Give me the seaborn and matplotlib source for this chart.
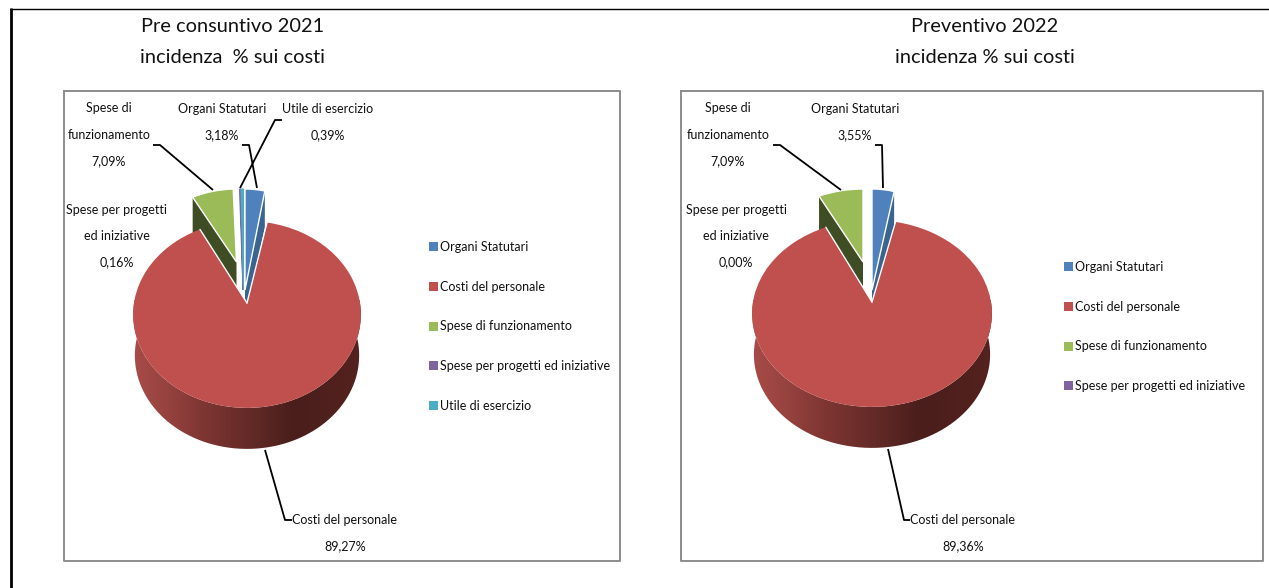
import matplotlib
matplotlib.use("Agg")
import numpy as np
import seaborn as sns
import matplotlib.pyplot as plt
from matplotlib.transforms import Transform
from matplotlib.path import Path
from matplotlib.patches import PathPatch, Patch
from matplotlib.colors import LinearSegmentedColormap

# ---------- data ----------
categories_2021 = ["Organi Statutari", "Costi del personale", "Spese di funzionamento",
                   "Spese per progetti ed iniziative", "Utile di esercizio"]
values_2021 = [3.18, 89.27, 7.09, 0.16, 0.39]
categories_2022 = ["Organi Statutari", "Costi del personale", "Spese di funzionamento",
                   "Spese per progetti ed iniziative"]
values_2022 = [3.55, 89.36, 7.09, 0.00]
titles_2021 = "Pre consuntivo 2021\nincidenza  % sui costi"
titles_2022 = "Preventivo 2022\nincidenza % sui costi"
wrapped = {"Organi Statutari": "Organi Statutari",
           "Costi del personale": "Costi del personale",
           "Spese di funzionamento": "Spese di\nfunzionamento",
           "Spese per progetti ed iniziative": "Spese per progetti\ned iniziative",
           "Utile di esercizio": "Utile di esercizio"}
colors = ["#4f81bd", "#c0504d", "#9bbb59", "#8064a2", "#4bacc6"]
face_dark = {0: "#3a6591", 2: "#3f4d24"}

sns.set_theme(style="white")
NARROW = ["Lato", "Open Sans", "DejaVu Sans"]
TITLE = ["Lato", "Open Sans", "DejaVu Sans"]
LABEL_SIZE = 9.0
palette = sns.color_palette(colors)


class Persp(Transform):
    """Maps a unit pie to an oblique view on the page."""
    input_dims = output_dims = 2
    is_separable = False
    has_inverse = False

    def __init__(self, cx, cy, rx, A, B=0.0):
        super().__init__()
        self.p = (cx, cy, rx, A, B)

    def transform_non_affine(self, v):
        cx, cy, rx, A, B = self.p
        v = np.asarray(v, float)
        d = 1 + B * v[:, 1]
        return np.column_stack([cx + rx * v[:, 0] / d, cy - A * v[:, 1] / d])

    def transform_path_non_affine(self, path):
        return Path(self.transform_non_affine(path.vertices), path.codes)


fig = plt.figure(figsize=(12.69, 5.88), dpi=100, facecolor="white")
ax = fig.add_axes([0, 0, 1, 1])
side_cmap = LinearSegmentedColormap.from_list(
    "side", [(0.0, "#a84c48"), (0.15, "#96423f"), (0.3, "#7f3633"), (0.55, "#5e2825"),
             (0.7, "#4a1e1b"), (1.0, "#54221f")])


def draw_panel(cats, vals, geom, side_x):
    wedges, _ = ax.pie(vals, startangle=90, counterclock=False, colors=palette[:len(vals)],
                       wedgeprops=dict(edgecolor="white", linewidth=1.0))
    for i, w in enumerate(wedges):
        T = Persp(*geom[i])
        w.set_transform(T + ax.transData)
        if i >= 3:
            w.set_edgecolor(palette[i])
            w.set_linewidth(0.8 if vals[i] > 0 else 0)
            w.set_visible(vals[i] > 0)
            w.set_zorder(4)
        elif i == 1:
            w.set_zorder(6)
            w.set_linewidth(0)
            apex = T.transform_non_affine(np.array([[0.0, 0.0]]))[0]
            for th in (w.theta1, w.theta2):
                a = np.radians(th)
                e = T.transform_non_affine(np.array([[np.cos(a), np.sin(a)]]))[0]
                ax.plot([apex[0], e[0]], [apex[1], e[1]], color="white", lw=1.0, zorder=6.5)
        else:
            w.set_zorder(3)
        if i in face_dark:
            th = np.radians(w.theta1 if i == 0 else w.theta2)
            corner = T.transform_non_affine(np.array([[np.cos(th), np.sin(th)]]))[0]
            apex = T.transform_non_affine(np.array([[0.0, 0.0]]))[0]
            ax.fill([corner[0], corner[0], apex[0], apex[0]],
                    [corner[1], corner[1] + 36, apex[1] + 36, apex[1]],
                    color=face_dark[i], lw=0, zorder=2)
    # extruded side of the big slice, following its rim
    T = Persp(*geom[1])
    t = np.radians(np.linspace(-190, 10, 240))
    rim = T.transform_non_affine(np.column_stack([np.cos(t), np.sin(t)]))
    cx = geom[1][0]
    low = np.column_stack([cx + (rim[:, 0] - cx) * 0.985, rim[:, 1] + 41])
    poly = np.vstack([rim, low[::-1]])
    x0, x1 = side_x
    im = ax.imshow(np.linspace(0, 1, 256)[None, :], extent=(x0, x1, 460, 300), cmap=side_cmap,
                   aspect="auto", zorder=5, interpolation="bilinear")
    im.set_clip_path(PathPatch(Path(poly), transform=ax.transData))
    return wedges


def label(x, y, name, v):
    s = wrapped[name] + "\n" + f"{v:.2f}%".replace(".", ",")
    ax.text(x, y, s, ha="center", va="center", family=NARROW, fontsize=LABEL_SIZE, color="#111111",
            linespacing=2.45, zorder=8)


def leader(xs, ys):
    ax.plot(xs, ys, color="black", lw=1.3, zorder=7, solid_capstyle="butt")


# panel frames and page rules
for (x0, x1) in [(64, 620), (681, 1263)]:
    ax.plot([x0, x1, x1, x0, x0], [91, 91, 561, 561, 91], color="#8c8c8c", lw=1.4, zorder=1)
ax.plot([10.5, 10.5], [588, 8], color="black", lw=2.0, zorder=1, solid_capstyle="butt")
ax.plot([9.5, 1269], [8.5, 8.5], color="black", lw=1.0, zorder=1, solid_capstyle="butt")

geom_2021 = [(245, 290, 100, 101), (247, 303, 113, 92, 0.123), (236.5, 262, 95, 73),
             (243, 290, 100, 101), (243.5, 290, 100, 101)]
geom_2022 = [(872, 290, 100, 101), (872, 302, 119, 92, 0.123), (863, 262, 102, 73),
             (866, 290, 100, 101)]
w1 = draw_panel(categories_2021, values_2021, geom_2021, (133, 362))
w2 = draw_panel(categories_2022, values_2022, geom_2022, (752, 992))

# titles
ax.text(233, 42, titles_2021, ha="center", va="center", family=TITLE, fontsize=14.4,
        linespacing=1.97, color="#111111")
ax.text(985, 42, titles_2022, ha="center", va="center", family=TITLE, fontsize=14.4,
        linespacing=1.97, color="#111111")

# data labels
label(109, 135, categories_2021[2], values_2021[2])
label(117, 236, categories_2021[3], values_2021[3])
label(222, 122, categories_2021[0], values_2021[0])
label(328, 122, categories_2021[4], values_2021[4])
label(345, 533, categories_2021[1], values_2021[1])
label(728, 135, categories_2022[2], values_2022[2])
label(736, 236, categories_2022[3], values_2022[3])
label(855, 122, categories_2022[0], values_2022[0])
label(963, 533, categories_2022[1], values_2022[1])

# leader lines
leader([153, 160, 213], [145, 145, 190])
leader([242, 249, 257], [145, 145, 188])
leader([282, 275, 240], [120, 120, 188])
leader([265, 285, 292], [450, 520, 520])
leader([773, 780, 841], [145, 145, 190])
leader([875, 882, 883], [145, 145, 188])
leader([888, 904, 910], [449, 520, 520])


# legends
def legend(cats, x, y0):
    handles = [Patch(facecolor=palette[i], edgecolor="none") for i in range(len(cats))]
    leg = ax.legend(handles, cats, loc="upper left", bbox_to_anchor=(x, y0),
                    bbox_transform=ax.transData, frameon=False, ncols=1,
                    prop=dict(family=NARROW, size=LABEL_SIZE), labelcolor="#111111",
                    labelspacing=2.22, handlelength=0.75, handleheight=0.75, handletextpad=0.16,
                    borderpad=0, borderaxespad=0)
    leg.set_zorder(8)
    return leg


ax.add_artist(legend(categories_2021, 429, 241))
legend(categories_2022, 1064, 261)

ax.set_aspect("auto")
ax.set_xlim(0, 1269)
ax.set_ylim(588, 0)
ax.axis("off")
fig.savefig("out.png", dpi=100)
